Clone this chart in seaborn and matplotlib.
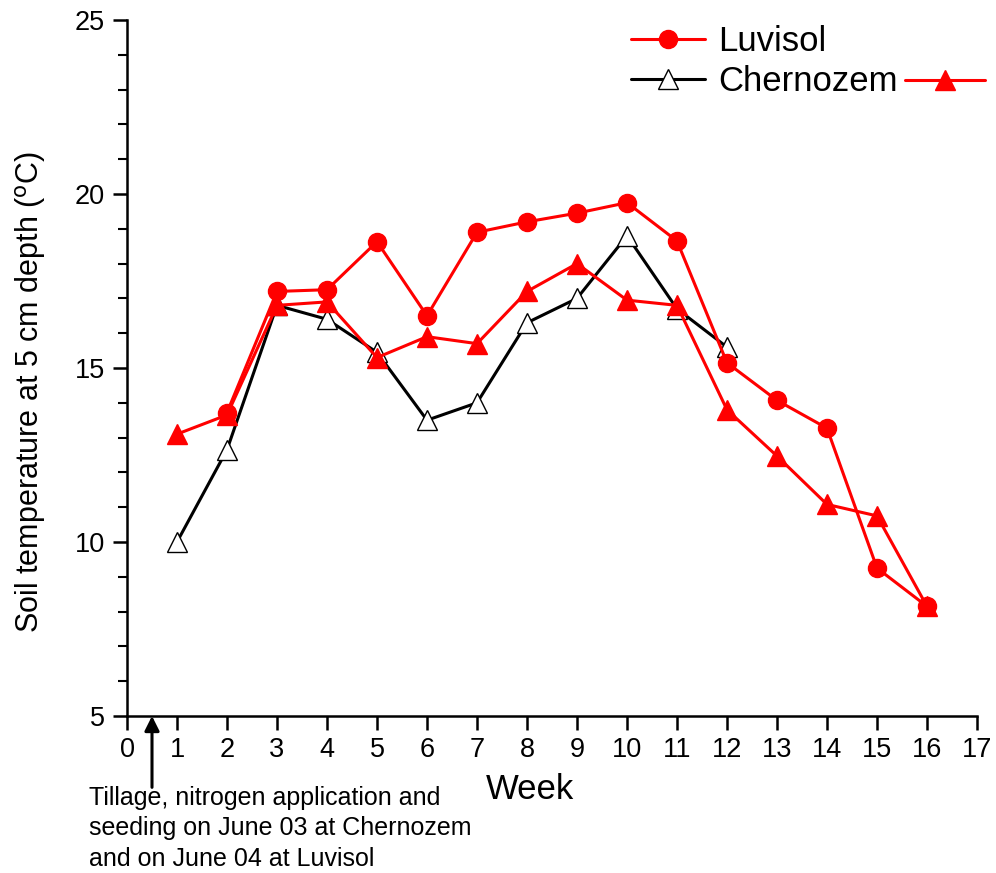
import matplotlib
matplotlib.use("Agg")
import matplotlib.pyplot as plt
from matplotlib.lines import Line2D
from matplotlib.ticker import MultipleLocator
import seaborn as sns
import pandas as pd

sns.set_style("ticks")
plt.rcParams['font.family'] = ['Liberation Sans', 'DejaVu Sans']
plt.rcParams['text.color'] = 'black'
plt.rcParams['axes.labelcolor'] = 'black'
plt.rcParams['xtick.color'] = 'black'
plt.rcParams['ytick.color'] = 'black'

weeks_luv = [2, 3, 4, 5, 6, 7, 8, 9, 10, 11, 12, 13, 14, 15, 16]
luvisol = [13.72, 17.2, 17.25, 18.63, 16.5, 18.9, 19.2, 19.45, 19.75, 18.65, 15.15, 14.07, 13.27, 9.25, 8.15]

weeks_che = [1, 2, 3, 4, 5, 6, 7, 8, 9, 10, 11, 12]
chernozem = [10.0, 12.65, 16.8, 16.4, 15.45, 13.5, 14.0, 16.3, 17.0, 18.8, 16.7, 15.6]

weeks_red_tri = [1, 2, 3, 4, 5, 6, 7, 8, 9, 10, 11, 12, 13, 14, 15, 16]
red_tri = [13.1, 13.65, 16.8, 16.9, 15.3, 15.9, 15.7, 17.2, 18.0, 16.95, 16.8, 13.8, 12.47, 11.08, 10.75, 8.15]

legend_labels = ["Luvisol", "Chernozem"]
annotation = "Tillage, nitrogen application and\nseeding on June 03 at Chernozem\nand on June 04 at Luvisol"

W, H = 996, 873
fig = plt.figure(figsize=(W / 100, H / 100), dpi=100)
ax = fig.add_axes([127 / W, 1 - 716 / H, 850 / W, 696 / H])

df_luv = pd.DataFrame({"week": weeks_luv, "temp": luvisol})
df_che = pd.DataFrame({"week": weeks_che, "temp": chernozem})
df_red = pd.DataFrame({"week": weeks_red_tri, "temp": red_tri})

lw = 2.2
sns.lineplot(data=df_che, x="week", y="temp", ax=ax, color="black", lw=lw,
             marker="^", markersize=14, markerfacecolor="white",
             markeredgecolor="black", markeredgewidth=1.0, zorder=2)
sns.lineplot(data=df_red, x="week", y="temp", ax=ax, color="red", lw=lw,
             marker="^", markersize=14, markerfacecolor="red",
             markeredgecolor="red", markeredgewidth=1.0, zorder=3)
sns.lineplot(data=df_luv, x="week", y="temp", ax=ax, color="red", lw=lw,
             marker="o", markersize=13, markerfacecolor="red",
             markeredgecolor="red", markeredgewidth=1.0, zorder=4)

ax.set_xlim(0, 17)
ax.set_ylim(5, 25)
ax.xaxis.set_major_locator(MultipleLocator(1))
ax.yaxis.set_major_locator(MultipleLocator(5))
ax.yaxis.set_minor_locator(MultipleLocator(1))
ax.tick_params(axis='x', which='major', direction='out', length=10, width=1.8, labelsize=19.5, pad=5)
ax.tick_params(axis='y', which='major', direction='out', length=10, width=1.8, labelsize=19.5, pad=6)
ax.tick_params(axis='y', which='minor', direction='out', length=6.5, width=1.5)
for s in ['top', 'right']:
    ax.spines[s].set_visible(False)
for s in ['left', 'bottom']:
    ax.spines[s].set_linewidth(1.8)
    ax.spines[s].set_color('black')

ax.set_xlabel("Week", fontsize=25, color="black")
ax.xaxis.set_label_coords((530 - 127) / 850, -(773 - 716) / 696)
ax.set_ylabel("Soil temperature at 5 cm depth ($^{\\mathrm{o}}$C)", fontsize=22, color="black")
ax.yaxis.set_label_coords((48 - 127) / 850, (716 - 392) / 696)

h1 = Line2D([], [], color="red", lw=lw, marker="o", markersize=13, markerfacecolor="red", markeredgecolor="red")
h2 = Line2D([], [], color="black", lw=lw, marker="^", markersize=14, markerfacecolor="white", markeredgecolor="black", markeredgewidth=1.0)
h3 = Line2D([], [], color="red", lw=lw, marker="^", markersize=14, markerfacecolor="red", markeredgecolor="red")
leg1 = ax.legend([h1, h2], legend_labels, loc="upper left", bbox_to_anchor=(631 / W, 1 - 25 / H),
                 bbox_transform=fig.transFigure, borderpad=0, borderaxespad=0,
                 frameon=False, fontsize=25, handlelength=2.13, handletextpad=0.37, labelspacing=0.2)
for t in leg1.get_texts():
    t.set_color("black")
ax.add_artist(leg1)
leg2 = ax.legend([h3], [""], loc="upper left", bbox_to_anchor=(905 / W, 1 - 66 / H),
                 bbox_transform=fig.transFigure, borderpad=0, borderaxespad=0,
                 frameon=False, fontsize=25, handlelength=2.3, handletextpad=0.0)

ax.annotate("", xy=(0.5, 5), xycoords="data", xytext=(0.5, 2.95), textcoords="data",
            arrowprops=dict(arrowstyle="-|>", color="black", lw=2.2, mutation_scale=22,
                            shrinkA=0, shrinkB=0),
            annotation_clip=False)
fig.text(89 / W, 1 - 786 / H, annotation, fontsize=18, va="top", ha="left",
         linespacing=1.33, color="black")

fig.savefig("out.png", dpi=100)
